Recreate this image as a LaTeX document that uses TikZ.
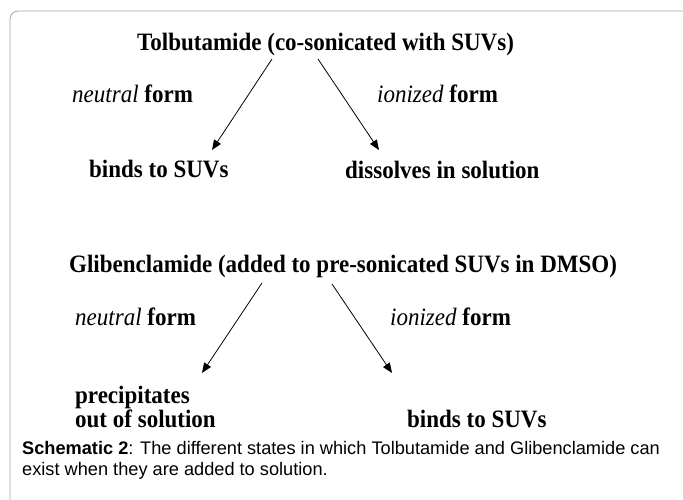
\documentclass[tikz,border=0pt]{standalone}
\usepackage{fontspec}
\setmainfont[FakeStretch=0.92]{Liberation Serif}
\newfontfamily\capfont{Liberation Sans}
\usetikzlibrary{arrows.meta}
\tikzset{
  lbl/.style={anchor=base west, inner sep=0pt, font=\fontsize{25}{28}\selectfont},
  captext/.style={anchor=base west, inner sep=0pt, font=\capfont\fontsize{18.2}{21}\selectfont},
  arr/.style={line width=0.8pt, -{Triangle[length=10pt,width=8pt]}},
  frame/.style={draw=black!35, line width=0.8pt, rounded corners=8pt}
}
\begin{document}
\begin{tikzpicture}[x=1pt,y=-1pt]
\useasboundingbox (0,0) rectangle (683,499);
\draw[frame] (10,505) -- (10,11) -- (690,11);
\node[lbl] (t1) at (137,50) {\textbf{Tolbutamide (co-sonicated with SUVs)}};
\node[lbl] (n1) at (72,102) {\textit{neutral} \textbf{form}};
\node[lbl] (i1) at (377,102) {\textit{ionized} \textbf{form}};
\node[lbl] (b1) at (89,177) {\textbf{binds to SUVs}};
\node[lbl] (d1) at (345,178) {\textbf{dissolves in solution}};
\node[lbl] (t2) at (69,272) {\textbf{Glibenclamide (added to pre-sonicated SUVs in DMSO)}};
\node[lbl] (n2) at (75,325) {\textit{neutral} \textbf{form}};
\node[lbl] (i2) at (390,325) {\textit{ionized} \textbf{form}};
\node[lbl] (p2) at (75,403) {\textbf{precipitates}};
\node[lbl] (o2) at (75,427) {\textbf{out of solution}};
\node[lbl] (b2) at (407,427) {\textbf{binds to SUVs}};
\node[captext] (c1) at (22,454) {\textbf{Schematic 2}: The different states in which Tolbutamide and Glibenclamide can};
\node[captext] (c2) at (22,475) {exist when they are added to solution.};
\coordinate (a1s) at (272,59); \coordinate (a1e) at (212,150);
\coordinate (a2s) at (318,59); \coordinate (a2e) at (379,150);
\coordinate (a3s) at (262,283); \coordinate (a3e) at (202,373);
\coordinate (a4s) at (332,284); \coordinate (a4e) at (392,373);
\draw[arr] (a1s) -- (a1e);
\draw[arr] (a2s) -- (a2e);
\draw[arr] (a3s) -- (a3e);
\draw[arr] (a4s) -- (a4e);
\end{tikzpicture}
\end{document}
